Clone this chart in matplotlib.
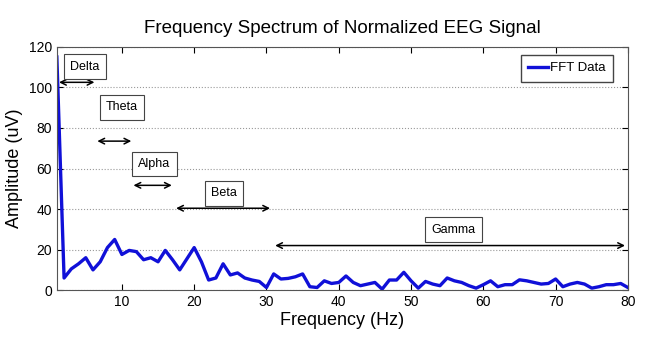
import matplotlib
matplotlib.use("Agg")
import matplotlib.pyplot as plt
import numpy as np

plt.rcParams['font.family'] = ['Liberation Sans Narrow', 'Liberation Sans', 'DejaVu Sans']

# FFT amplitude, 1 Hz steps from 1 to 80 Hz
freq = np.arange(1, 81)
amp = [115, 6, 10.5, 13, 16, 10, 14, 21, 25, 17.6,
       19.6, 19, 15, 16, 14, 19.6, 15, 10, 15.5, 21,
       14, 5, 6, 13, 7.5, 8.5, 6, 5, 4.3, 1.3,
       8, 5.5, 5.8, 6.6, 8, 1.7, 1.3, 4.6, 3.3, 3.8,
       7, 3.8, 2.2, 3, 3.8, 0.5, 5, 5, 8.8, 4.6,
       1, 4.3, 3, 2.2, 6, 4.6, 3.8, 2.2, 1, 2.7,
       4.6, 1.7, 2.7, 2.7, 5.1, 4.6, 3.8, 3, 3.3, 5.5,
       1.7, 3, 3.8, 3, 1, 1.7, 2.7, 2.7, 3.3, 1.3]

# frequency bands: name, start, end, arrow height, label x, label y
bands = ['Delta', 'Theta', 'Alpha', 'Beta', 'Gamma']
band_start = [1.3, 6.6, 11.6, 17.5, 31.2]
band_end = [6.2, 11.3, 16.9, 30.5, 79.6]
arrow_y = [102.5, 73.5, 51.7, 40.4, 22]
label_x = [4.9, 10.0, 14.5, 24.1, 55.9]
label_y = [110.3, 90.2, 62.3, 47.7, 29.9]

fig = plt.figure(figsize=(6.46, 3.37), dpi=100)
ax = fig.add_axes([0.088, 0.139, 0.884, 0.722])

ax.plot(freq, amp, color='#1010d8', linewidth=2.4, label='FFT Data')

for i in range(len(bands)):
    ax.annotate('', xy=(band_end[i], arrow_y[i]), xytext=(band_start[i], arrow_y[i]),
                arrowprops=dict(arrowstyle='<->', color='black', lw=1.1,
                                shrinkA=0, shrinkB=0))
    ax.text(label_x[i], label_y[i], bands[i], ha='center', va='center', fontsize=9,
            bbox=dict(boxstyle='square,pad=0.5', fc='white', ec='#444444', lw=0.8))

ax.set_xlim(1, 80)
ax.set_ylim(0, 120)
ax.set_xticks(range(10, 81, 10))
ax.set_yticks(range(0, 121, 20))
ax.yaxis.grid(True, linestyle=':', color='#999999', linewidth=0.8)
ax.tick_params(direction='in', top=True, right=True, labelsize=10, length=4)
for s in ax.spines.values():
    s.set_color('#555555')

ax.set_title('Frequency Spectrum of Normalized EEG Signal', fontsize=13.5, pad=10)
ax.set_xlabel('Frequency (Hz)', fontsize=13, labelpad=2)
ax.set_ylabel('Amplitude (uV)', fontsize=13, labelpad=4)

leg = ax.legend(loc='upper right', fontsize=9.5, fancybox=False, handlelength=1.5,
                handletextpad=0.2, borderpad=0.55, framealpha=1, borderaxespad=0,
                bbox_to_anchor=(0.974, 0.967))
leg.get_frame().set_edgecolor('#444444')

fig.savefig('out.png', dpi=100)
